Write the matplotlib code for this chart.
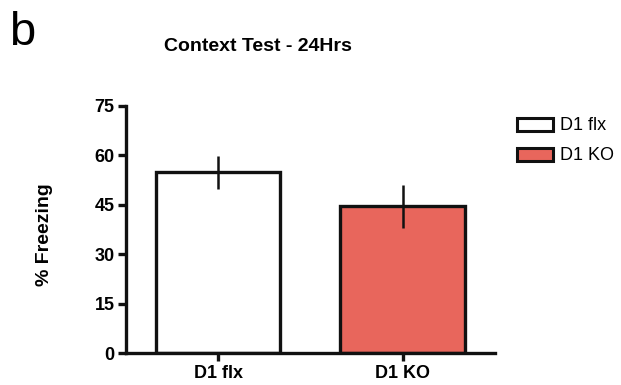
import matplotlib
matplotlib.use("Agg")
import matplotlib.pyplot as plt
from matplotlib.patches import Patch

groups = ["D1 flx", "D1 KO"]
freezing = [54.8, 44.5]
sem = [5.1, 6.6]
fills = ["#ffffff", "#e8665c"]
yticks = [0, 15, 30, 45, 60, 75]

plt.rcParams["font.family"] = ["Liberation Sans", "DejaVu Sans"]

fig = plt.figure(figsize=(6.21, 3.85), dpi=100)
ax = fig.add_axes([0.2024, 0.0823, 0.5946, 0.6432])

x = list(range(len(groups)))
ax.bar(x, freezing, width=0.676, color=fills, edgecolor="#111111",
       linewidth=2.4, zorder=2)
ax.errorbar(x, freezing, yerr=sem, fmt="none", ecolor="#111111",
            elinewidth=1.8, capsize=0, zorder=3)

ax.set_xlim(-0.5, 1.5)
ax.set_ylim(0, 75)
ax.set_yticks(yticks)
ax.set_yticklabels([str(v) for v in yticks], fontsize=13, fontweight="bold")
ax.set_xticks(x)
ax.set_xticklabels(groups, fontsize=13, fontweight="bold")

for side in ("top", "right"):
    ax.spines[side].set_visible(False)
for side in ("left", "bottom"):
    ax.spines[side].set_linewidth(2.4)
    ax.spines[side].set_color("#111111")
ax.tick_params(axis="both", length=6, width=2.4, color="#111111", pad=2)
ax.tick_params(axis="x", pad=2.5)

ax.set_ylabel("% Freezing", fontsize=14, fontweight="bold", va="center")
ax.yaxis.set_label_coords(-0.221, 0.478)

fig.text(0.416, 0.88, "Context Test - 24Hrs", ha="center", va="center",
         fontsize=14, fontweight="bold")
fig.text(0.014, 0.883, "b", ha="left", va="baseline", fontsize=34)

handles = [Patch(facecolor=c, edgecolor="#111111", linewidth=2.2) for c in fills]
fig.legend(handles, groups, loc="upper left", bbox_to_anchor=(0.8325, 0.695),
           frameon=False, fontsize=13, handlelength=2.0, handleheight=0.72,
           handletextpad=0.4, labelspacing=0.72, borderaxespad=0, borderpad=0)

fig.savefig("out.png", dpi=100)
